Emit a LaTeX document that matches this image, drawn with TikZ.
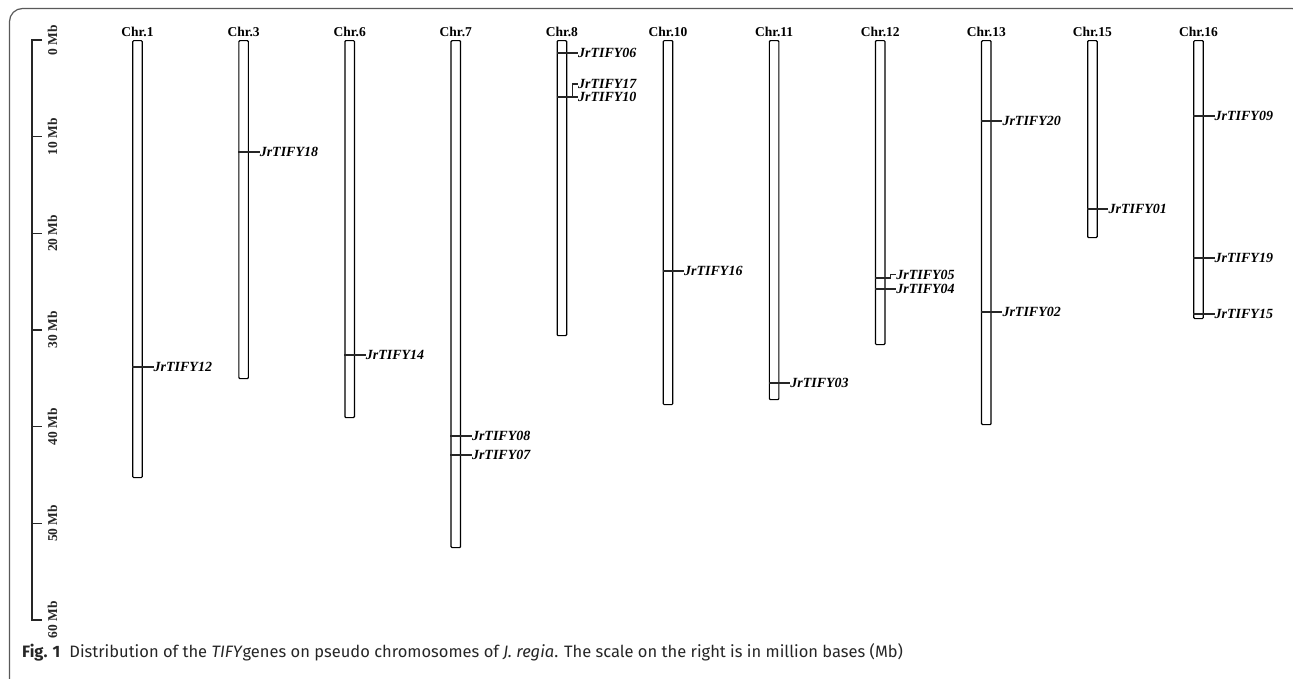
\documentclass[tikz,border=0pt]{standalone}
\usepackage{fontspec}
\setmainfont{Liberation Serif}
\newfontfamily\capfont{Fira Sans}
\begin{document}
\begin{tikzpicture}[x=1pt,y=-1pt,
  chrom/.style={draw=black, line width=1.2pt, minimum width=9.5pt, inner sep=0pt, anchor=north, rounded corners=1pt},
  chrlab/.style={font=\bfseries\fontsize{13.5}{14}\selectfont, inner sep=0pt, anchor=base},
  gene/.style={font=\bfseries\itshape\fontsize{14}{15}\selectfont, inner sep=0pt, anchor=west, text height=9.5pt, text depth=0pt},
  glink/.style={line width=1.1pt, draw=black!85},
  mblab/.style={font=\bfseries\fontsize{13.5}{14}\selectfont, inner sep=0pt, rotate=90, text=black!85},
]
\useasboundingbox (0,0) rectangle (1293,678);

% panel frame
\begin{scope}
  \clip (0,0) rectangle (1293,678);
  \draw[black!65, line width=1.2pt, rounded corners=13pt] (9.5,8.5) rectangle (1305,692);
\end{scope}

% Mb scale
\draw[black!85, line width=1.3pt] (42,40) -- (32,40) -- (32,620) -- (42,620);
\foreach \k in {1,...,5} \draw[black!85, line width=1.3pt] (32,40+96.67*\k) -- (42,40+96.67*\k);
\foreach \k in {0,...,6} {
  \pgfmathtruncatemacro\mb{10*\k}
  \node[mblab] at (52.5,40+96.67*\k) {\mb\ Mb};
}

% chromosomes
\node[chrom, minimum height=437pt] (c1)  at (137.5,40) {};
\node[chrom, minimum height=338pt] (c3)  at (243.6,40) {};
\node[chrom, minimum height=377pt] (c6)  at (349.7,40) {};
\node[chrom, minimum height=507pt] (c7)  at (455.8,40) {};
\node[chrom, minimum height=295pt] (c8)  at (561.9,40) {};
\node[chrom, minimum height=364pt] (c10) at (668.0,40) {};
\node[chrom, minimum height=359pt] (c11) at (774.1,40) {};
\node[chrom, minimum height=304pt] (c12) at (880.2,40) {};
\node[chrom, minimum height=384pt] (c13) at (986.3,40) {};
\node[chrom, minimum height=197pt] (c15) at (1092.4,40) {};
\node[chrom, minimum height=278pt] (c16) at (1198.5,40) {};

\foreach \c/\t in {c1/1,c3/3,c6/6,c7/7,c8/8,c10/10,c11/11,c12/12,c13/13,c15/15,c16/16}
  \node[chrlab] at ([yshift=4pt]\c.north) {Chr.\t};

% gene labels
\node[gene] (g12) at (153.5,367) {JrTIFY12};
\node[gene] (g18) at (259.6,152) {JrTIFY18};
\node[gene] (g14) at (365.7,355) {JrTIFY14};
\node[gene] (g08) at (471.8,436) {JrTIFY08};
\node[gene] (g07) at (471.8,455) {JrTIFY07};
\node[gene] (g06) at (577.9,53) {JrTIFY06};
\node[gene] (g17) at (577.9,84) {JrTIFY17};
\node[gene] (g10) at (577.9,97) {JrTIFY10};
\node[gene] (g16) at (684.0,271) {JrTIFY16};
\node[gene] (g03) at (790.1,383) {JrTIFY03};
\node[gene] (g05) at (896.2,274.5) {JrTIFY05};
\node[gene] (g04) at (896.2,289) {JrTIFY04};
\node[gene] (g20) at (1002.3,121) {JrTIFY20};
\node[gene] (g02) at (1002.3,312) {JrTIFY02};
\node[gene] (g01) at (1108.4,209) {JrTIFY01};
\node[gene] (g09) at (1214.5,116) {JrTIFY09};
\node[gene] (g19) at (1214.5,258) {JrTIFY19};
\node[gene] (g15) at (1214.5,314) {JrTIFY15};

% gene positions on the chromosomes
\foreach \c/\g in {c1/g12,c3/g18,c6/g14,c7/g08,c7/g07,c8/g06,c10/g16,c11/g03,c12/g04,c13/g20,c13/g02,c15/g01,c16/g09,c16/g19,c16/g15}
  \draw[glink] (\c.west |- \g.west) -- (\g.west);

% paired loci with a bent leader
\coordinate (k8) at (572.5,97);
\draw[glink] (c8.west |- k8) -- (g10.west);
\draw[glink] (k8) |- (g17.west);
\coordinate (k12) at (890.5,278);
\draw[glink] (c12.west |- k12) -- (k12) |- (g05.west);

% caption
\node[anchor=west, inner sep=0pt, font=\capfont\fontsize{16.5}{18}\selectfont, text=black!85] (cap) at (22,652)
  {\textbf{Fig. 1}\hspace{0.55em}Distribution of the \textit{TIFY}genes on pseudo chromosomes of \textit{J. regia}. The scale on the right is in million bases (Mb)};
\end{tikzpicture}
\end{document}
